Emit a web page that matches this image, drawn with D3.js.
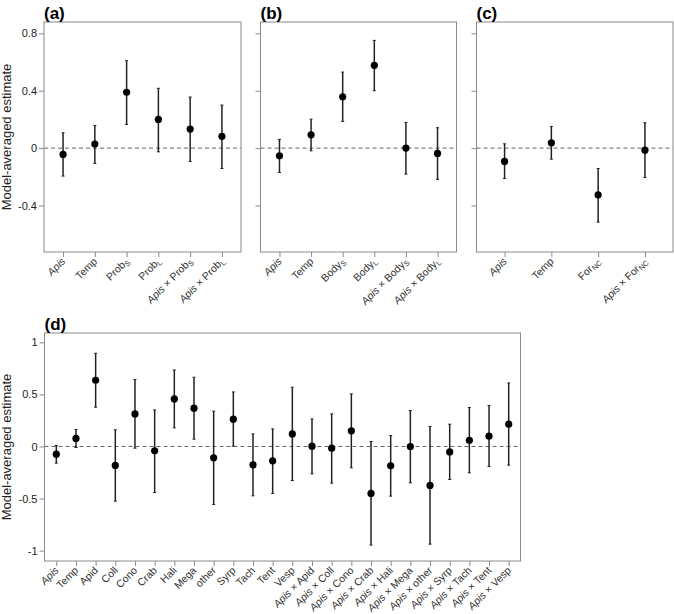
<!DOCTYPE html>
<html>
<head>
<meta charset="utf-8">
<script src="https://cdn.jsdelivr.net/npm/d3@7"></script>
<style>
  body { margin: 0; background: #fff; }
  svg { font-family: "Liberation Sans", Arial, sans-serif; }
</style>
</head>
<body>
<svg id="chart" width="674" height="614"></svg>
<script>
// *...* = italic, _X = subscript
const termsA = ["*Apis*", "Temp", "Prob_S", "Prob_L", "*Apis* × Prob_S", "*Apis* × Prob_L"];
const estA = [-0.044, 0.028, 0.389, 0.2, 0.133, 0.082];
const lowA = [-0.195, -0.107, 0.165, -0.026, -0.093, -0.142];
const highA = [0.107, 0.158, 0.609, 0.417, 0.356, 0.3];

const termsB = ["*Apis*", "Temp", "Body_S", "Body_L", "*Apis* × Body_S", "*Apis* × Body_L"];
const estB = [-0.054, 0.093, 0.358, 0.577, 0.0, -0.037];
const lowB = [-0.17, -0.019, 0.186, 0.4, -0.181, -0.218];
const highB = [0.061, 0.202, 0.53, 0.751, 0.179, 0.142];

const termsC = ["*Apis*", "Temp", "For_NC", "*Apis* × For_NC"];
const estC = [-0.093, 0.037, -0.326, -0.014];
const lowC = [-0.212, -0.077, -0.516, -0.205];
const highC = [0.03, 0.151, -0.142, 0.177];

const termsD = ["*Apis*", "Temp", "Apid", "Coll", "Cono", "Crab", "Hali", "Mega", "other", "Syrp",
  "Tach", "Tent", "Vesp", "*Apis* × Apid", "*Apis* × Coll", "*Apis* × Cono", "*Apis* × Crab",
  "*Apis* × Hali", "*Apis* × Mega", "*Apis* × other", "*Apis* × Syrp", "*Apis* × Tach",
  "*Apis* × Tent", "*Apis* × Vesp"];
const estD = [-0.074, 0.077, 0.636, -0.182, 0.313, -0.042, 0.457, 0.368, -0.109, 0.262,
  -0.176, -0.138, 0.121, 0.003, -0.016, 0.15, -0.451, -0.186, 0.0, -0.374, -0.052, 0.06, 0.099, 0.214];
const lowD = [-0.16, -0.01, 0.377, -0.525, -0.016, -0.442, 0.179, 0.07, -0.557, 0.003,
  -0.474, -0.451, -0.327, -0.263, -0.352, -0.205, -0.947, -0.477, -0.349, -0.938, -0.317, -0.253, -0.192, -0.179];
const highD = [0.01, 0.163, 0.895, 0.16, 0.643, 0.351, 0.735, 0.665, 0.339, 0.524,
  0.121, 0.169, 0.569, 0.265, 0.313, 0.505, 0.048, 0.105, 0.345, 0.192, 0.214, 0.374, 0.393, 0.61];

const ticksTop = [-0.4, 0, 0.4, 0.8];
const ticksD = [-1, -0.5, 0, 0.5, 1];

const svg = d3.select("#chart");
const boxColor = "#8a8a8a";

// write a label string with italic and subscript parts
function writeLabel(text, s) {
  s.split(/(\*[^*]+\*|_[A-Z]+)/).filter(p => p).forEach(p => {
    if (p[0] === "*") {
      text.append("tspan").attr("font-style", "italic").text(p.slice(1, -1));
    } else if (p[0] === "_") {
      text.append("tspan").attr("font-size", "7.5px").attr("dy", 2).text(p.slice(1));
    } else {
      text.append("tspan").text(p);
    }
  });
}

function panel(o) {
  const g = svg.append("g");
  const x = d3.scalePoint().domain(o.terms).range([o.x0, o.x1]).padding(0.6);
  const y = d3.scaleLinear().domain(o.ydom).range([o.y1, o.y0]);

  // y ticks
  const ya = g.append("g")
    .attr("transform", `translate(${o.x0},0)`)
    .call(d3.axisLeft(y).tickValues(o.ticks).tickSize(5).tickPadding(2)
      .tickFormat(d => (o.showY ? String(d) : "")));
  ya.select(".domain").remove();
  ya.selectAll("line").attr("stroke", boxColor);
  ya.selectAll("text").attr("font-size", "11px").attr("fill", "#222")
    .attr("font-family", "Liberation Sans, Arial, sans-serif");

  // x ticks
  const xa = g.append("g")
    .attr("transform", `translate(0,${o.y1})`)
    .call(d3.axisBottom(x).tickSize(5).tickFormat(""));
  xa.select(".domain").remove();
  xa.selectAll("line").attr("stroke", boxColor);

  // x labels, rotated
  o.terms.forEach(t => {
    const tx = g.append("text")
      .attr("transform", `translate(${x(t) + 3},${o.y1 + 10}) rotate(-45)`)
      .attr("text-anchor", "end")
      .attr("font-size", "10.5px")
      .attr("fill", "#333");
    writeLabel(tx, t);
  });

  // zero line
  g.append("line")
    .attr("x1", o.x0).attr("x2", o.x1)
    .attr("y1", y(0)).attr("y2", y(0))
    .attr("stroke", "#666").attr("stroke-dasharray", "4,3");

  // error bars
  const bars = g.selectAll(".bar").data(o.terms).enter().append("g");
  bars.append("line")
    .attr("x1", d => x(d)).attr("x2", d => x(d))
    .attr("y1", (d, i) => y(o.low[i])).attr("y2", (d, i) => y(o.high[i]))
    .attr("stroke", "#222").attr("stroke-width", 1.5);
  [o.low, o.high].forEach(arr => {
    bars.append("line")
      .attr("x1", d => x(d) - 1.5).attr("x2", d => x(d) + 1.5)
      .attr("y1", (d, i) => y(arr[i])).attr("y2", (d, i) => y(arr[i]))
      .attr("stroke", "#222").attr("stroke-width", 1);
  });
  bars.append("circle")
    .attr("cx", d => x(d)).attr("cy", (d, i) => y(o.est[i]))
    .attr("r", 3.6).attr("fill", "#000");

  // box
  g.append("rect")
    .attr("x", o.x0).attr("y", o.y0)
    .attr("width", o.x1 - o.x0).attr("height", o.y1 - o.y0)
    .attr("fill", "none").attr("stroke", boxColor);

  // panel tag
  g.append("text")
    .attr("x", o.x0).attr("y", o.y0 - 3)
    .attr("font-size", "17px").attr("font-weight", "bold")
    .text(o.tag);

  if (o.showY) {
    g.append("text")
      .attr("transform", `translate(11,${(o.y0 + o.y1) / 2}) rotate(-90)`)
      .attr("text-anchor", "middle")
      .attr("font-size", "13px").attr("fill", "#222")
      .text("Model-averaged estimate");
  }
}

const topDom = [-0.724, 0.879];
panel({ tag: "(a)", terms: termsA, est: estA, low: lowA, high: highA,
  x0: 44, x1: 241, y0: 22, y1: 252, ydom: topDom, ticks: ticksTop, showY: true });
panel({ tag: "(b)", terms: termsB, est: estB, low: lowB, high: highB,
  x0: 260.5, x1: 456.5, y0: 22, y1: 252, ydom: topDom, ticks: ticksTop, showY: false });
panel({ tag: "(c)", terms: termsC, est: estC, low: lowC, high: highC,
  x0: 476.5, x1: 673, y0: 22, y1: 252, ydom: topDom, ticks: ticksTop, showY: false });
panel({ tag: "(d)", terms: termsD, est: estD, low: lowD, high: highD,
  x0: 44.5, x1: 520.5, y0: 333, y1: 561, ydom: [-1.1, 1.09], ticks: ticksD, showY: true });
</script>
</body>
</html>
